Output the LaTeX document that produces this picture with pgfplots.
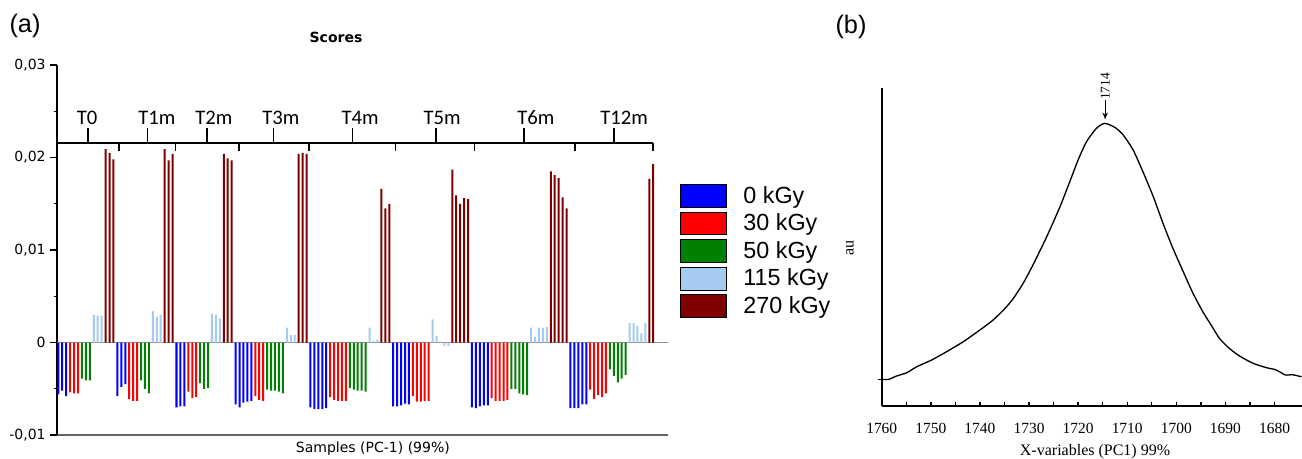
\documentclass[border=0pt]{standalone}
\usepackage{pgfplots}
\pgfplotsset{compat=1.18}
\usepackage{fontspec}
\setmainfont{DejaVu Sans}
\newfontfamily\arialf{Liberation Sans}
\newfontfamily\tnr{Liberation Serif}
\newfontfamily\calib{Carlito}
\usetikzlibrary{arrows.meta}

\definecolor{c0}{RGB}{0,0,255}
\definecolor{c30}{RGB}{255,0,0}
\definecolor{c50}{RGB}{0,128,0}
\definecolor{c115}{RGB}{166,202,240}
\definecolor{c270}{RGB}{127,0,0}

\pgfplotsset{
  mybar/.style={ybar, bar width=1.5pt, bar shift=0pt, draw=none,
    legend image code/.code={\draw[##1] (0pt,-8.5pt) rectangle (34.5pt,8.5pt);}},
}

\begin{document}
\begin{tikzpicture}
\path[use as bounding box] (0,0) rectangle (976.5pt,343.5pt);
\node[font=\arialf\fontsize{19}{22}\selectfont] at (18.75pt,324pt) {(a)};
\node[font=\arialf\fontsize{19}{22}\selectfont] at (638.25pt,323.25pt) {(b)};

% ---------------- panel (a) ----------------
\begin{axis}[
  at={(42.75pt,17.25pt)}, anchor=south west, scale only axis,
  width=458.25pt, height=277.5pt,
  xmin=-0.33, xmax=154.75, ymin=-0.01, ymax=0.03,
  axis x line*=bottom, axis y line*=left,
  x axis line style={-, line width=1.5pt, draw=black!60},
  y axis line style={-, line width=1.3pt},
  clip=false,
  scaled y ticks=false,
  tick align=outside,
  major tick length=5pt, minor tick length=2.5pt,
  ytick={-0.01,0,0.01,0.02,0.03},
  yticklabels={{-0,01},{0},{0,01},{0,02},{0,03}},
  minor ytick={-0.005,0.005,0.015,0.025},
  ytick style={black, line width=1pt},
  xtick=\empty,
  minor xtick={10.5,20.5,...,150.5},
  minor x tick style={black!50, line width=0.8pt},
  yticklabel style={font=\fontsize{10.5}{12}\selectfont},
  title={\bfseries Scores},
  title style={at={(0.4566,1.054)}, anchor=center, font=\fontsize{10.5}{12}\selectfont},
  xlabel={Samples (PC-1) (99\%)},
  xlabel style={at={(0.517,-0.038)}, anchor=center, font=\fontsize{10.5}{12}\selectfont},
  legend style={at={(1.0196,0.679)}, anchor=north west, draw=none, fill=none,
    inner sep=0pt, row sep=3.3pt, font=\arialf\fontsize{17.5}{19}\selectfont,
    nodes={inner sep=0.5pt},
    /tikz/every odd column/.append style={column sep=12pt}},
  legend cell align=left,
]
\draw[black!45, line width=1pt] (axis cs:-0.33,0) -- (axis cs:154.75,0);

\addplot[mybar, fill=c0] coordinates {
(0,-0.0056) (1,-0.0052) (2,-0.0058)
(15,-0.0058) (16,-0.0048) (17,-0.0045)
(30,-0.0070) (31,-0.0069) (32,-0.0069)
(45,-0.0067) (46,-0.0070) (47,-0.0065) (48,-0.0064) (49,-0.0063)
(64,-0.0070) (65,-0.0072) (66,-0.0072) (67,-0.0072) (68,-0.0071)
(85,-0.0069) (86,-0.0069) (87,-0.0068) (88,-0.0066) (89,-0.0067)
(105,-0.0070) (106,-0.0071) (107,-0.0069) (108,-0.0068) (109,-0.0068)
(130,-0.0071) (131,-0.0071) (132,-0.0071) (133,-0.0067) (134,-0.0067)
};
\addlegendentry{0 kGy}
\addplot[mybar, fill=c30] coordinates {
(3,-0.0054) (4,-0.0055) (5,-0.0055)
(18,-0.0061) (19,-0.0063) (20,-0.0063)
(33,-0.0053) (34,-0.0060) (35,-0.0059)
(50,-0.0058) (51,-0.0062) (52,-0.0063)
(69,-0.0059) (70,-0.0062) (71,-0.0063) (72,-0.0063) (73,-0.0063)
(90,-0.0058) (91,-0.0064) (92,-0.0064) (93,-0.0063) (94,-0.0063)
(110,-0.0060) (111,-0.0063) (112,-0.0063) (113,-0.0063) (114,-0.0062)
(135,-0.0051) (136,-0.0061) (137,-0.0057) (138,-0.0059) (139,-0.0055)
};
\addlegendentry{30 kGy}
\addplot[mybar, fill=c50] coordinates {
(6,-0.0039) (7,-0.0041) (8,-0.0041)
(21,-0.0041) (22,-0.0050) (23,-0.0055)
(36,-0.0044) (37,-0.0050) (38,-0.0049)
(53,-0.0051) (54,-0.0052) (55,-0.0052) (56,-0.0053) (57,-0.0055)
(74,-0.0049) (75,-0.0051) (76,-0.0052) (77,-0.0052) (78,-0.0053)
(115,-0.0050) (116,-0.0050) (117,-0.0055) (118,-0.0056) (119,-0.0057)
(140,-0.0029) (141,-0.0036) (142,-0.0043) (143,-0.0039) (144,-0.0035)
};
\addlegendentry{50 kGy}
\addplot[mybar, fill=c115] coordinates {
(9,0.0030) (10,0.0029) (11,0.0029)
(24,0.0034) (25,0.0028) (26,0.0030)
(39,0.0031) (40,0.0030) (41,0.0026)
(58,0.0016) (59,0.0008) (60,0.0008)
(79,0.0016) (80,0.0002) (81,0.0003)
(95,0.0025) (96,0.0007) (97,0.0001) (98,-0.0004) (99,-0.0004)
(120,0.0016) (121,0.0006) (122,0.0016) (123,0.0016) (124,0.0017)
(145,0.0021) (146,0.0021) (147,0.0018) (148,0.0010) (149,0.0021)
};
\addlegendentry{115 kGy}
\addplot[mybar, fill=c270] coordinates {
(12,0.0209) (13,0.0205) (14,0.0198)
(27,0.0209) (28,0.0197) (29,0.0204)
(42,0.0204) (43,0.0199) (44,0.0197)
(61,0.0204) (62,0.0205) (63,0.0204)
(82,0.0166) (83,0.0145) (84,0.0150)
(100,0.0187) (101,0.0159) (102,0.0150) (103,0.0156) (104,0.0155)
(125,0.0185) (126,0.0181) (127,0.0178) (128,0.0157) (129,0.0145)
(150,0.0177) (151,0.0193)
};
\addlegendentry{270 kGy}

% time bracket axis
\draw[line width=1.3pt] (axis cs:-0.33,0.02153) -- (axis cs:151,0.02153);
\pgfplotsinvokeforeach{-0.2,15.4,29.7,45.8,63.7,85.6,105.6,131.1,151.0}{
  \draw[line width=1.2pt] (axis cs:#1,0.02153) -- (axis cs:#1,0.0207);
}
\pgfplotsinvokeforeach{7.5,22.6,37.7,54.6,74.7,95.8,118.2,141.1}{
  \draw[line width=1.2pt] (axis cs:#1,0.02153) -- (axis cs:#1,0.02316);
}
\begin{scope}[every node/.style={font=\calib\fontsize{15.5}{17}\selectfont, anchor=center}]
\node at (axis cs:7.3,0.0243) {T0};
\node at (axis cs:25.0,0.0243) {T1m};
\node at (axis cs:39.5,0.0243) {T2m};
\node at (axis cs:56.5,0.0243) {T3m};
\node at (axis cs:76.6,0.0243) {T4m};
\node at (axis cs:97.4,0.0243) {T5m};
\node at (axis cs:121.2,0.0243) {T6m};
\node at (axis cs:143.6,0.0243) {T12m};
\end{scope}
\end{axis}

% ---------------- panel (b) ----------------
\begin{axis}[
  at={(661.3pt,39pt)}, anchor=south west, scale only axis,
  width=315.2pt, height=238.5pt,
  xmin=1674.4, xmax=1760, x dir=reverse,
  ymin=-0.104, ymax=1.138,
  axis x line*=bottom, axis y line*=left,
  axis line style={-, line width=1.3pt},
  clip=false,
  xtick={1680,1690,1700,1710,1720,1730,1740,1750,1760},
  xticklabels={1680,1690,1700,1710,1720,1730,1740,1750,1760},
  minor x tick num=1,
  ytick={0}, yticklabels={},
  ytick style={xshift=-3pt},
  tick align=inside, major tick length=3pt, minor tick length=3pt,
  tick style={black, line width=1pt},
  xticklabel style={font=\tnr\fontsize{11.6}{13}\selectfont, yshift=-9.5pt},
  xlabel={X-variables (PC1) 99\%},
  xlabel style={at={(0.5075,-0.155)}, anchor=base, font=\tnr\fontsize{12}{14}\selectfont},
  ylabel={au},
  ylabel style={at={(-0.0754,0.497)}, anchor=center, font=\tnr\fontsize{12}{14}\selectfont},
]
\addplot[black, line width=1pt, smooth, tension=0.4] coordinates {
(1760,0) (1758.6,0) (1757,0.013) (1754.9,0.026) (1752.9,0.049) (1749.8,0.076)
(1746.8,0.108) (1743.4,0.147) (1740.0,0.193) (1737.3,0.232) (1734.9,0.277)
(1733.2,0.316) (1731.2,0.375) (1729.2,0.447) (1726.4,0.557) (1723.7,0.674)
(1721.7,0.772) (1720.0,0.857) (1718.3,0.928) (1716.3,0.980) (1714.6,1.0)
(1712.5,0.984) (1710.8,0.954) (1708.8,0.896) (1706.8,0.811) (1704.7,0.714)
(1702.7,0.609) (1700.7,0.512) (1698.6,0.421) (1696.6,0.336) (1694.6,0.264)
(1692.9,0.212) (1691.2,0.160) (1689.2,0.121) (1687.1,0.091) (1684.4,0.063)
(1681.7,0.046) (1680.0,0.039) (1679.0,0.030) (1677.8,0.017) (1676.3,0.018)
(1674.5,0.010)
};
\draw[line width=0.9pt, -{Stealth[length=5pt,width=4pt]}] (axis cs:1714.5,1.09) -- (axis cs:1714.5,1.016);
\node[rotate=90, font=\tnr\fontsize{10}{12}\selectfont] at (axis cs:1714.5,1.1437) {1714};
\end{axis}
\end{tikzpicture}
\end{document}
